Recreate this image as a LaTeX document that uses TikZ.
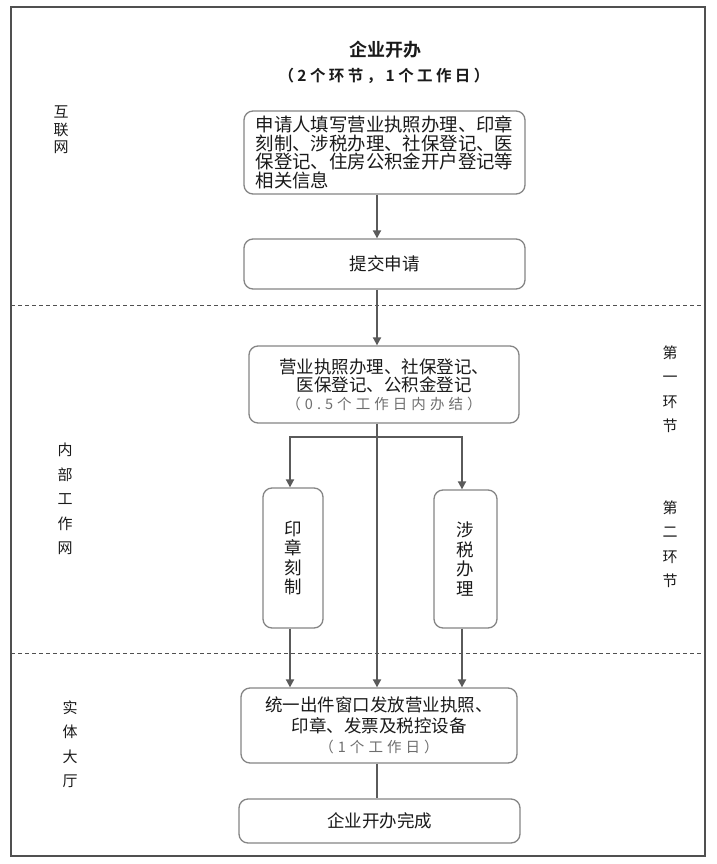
\documentclass[tikz,border=0pt]{standalone}
\usepackage{fontspec}
\setmainfont{Noto Sans CJK SC}
\newfontfamily\cjkb{Noto Sans CJK SC Bold}
\newfontfamily\cjkg[LetterSpace=28]{Noto Sans CJK SC}
\usetikzlibrary{arrows.meta}
\definecolor{framec}{HTML}{505050}
\definecolor{boxc}{HTML}{858585}
\definecolor{linec}{HTML}{5A5A5A}
\definecolor{txtc}{HTML}{1A1A1A}
\definecolor{greyc}{HTML}{6E6E6E}
\tikzset{
  procbox/.style={draw=boxc, line width=1.3pt, rounded corners=9pt, inner sep=0pt,
    text=txtc, font=\fontsize{17.5}{18.5}\selectfont, align=center},
  sidelbl/.style={text=txtc, font=\fontsize{15}{24.5}\selectfont, align=center, inner sep=0pt},
  conn/.style={draw=linec, line width=1.8pt},
  arr/.style={conn, -{Triangle[length=8pt,width=8pt]}},
  sep/.style={draw=framec, line width=1pt, dash pattern=on 4pt off 3pt},
}
\begin{document}
\begin{tikzpicture}[x=1pt,y=-1pt]
\useasboundingbox (0,0) rectangle (716,864);
\fill[white] (0,0) rectangle (716,864);
% frame
\draw[framec, line width=2pt] (11,7) rectangle (705,856);
\coordinate (fl1) at (11,305); \coordinate (fr1) at (705,305);
\coordinate (fl2) at (11,653); \coordinate (fr2) at (705,653);
\draw[sep] (fl1) -- (fr1);
\draw[sep] (fl2) -- (fr2);
% title
\node[text=txtc, font=\cjkb\fontsize{18}{20}\selectfont, inner sep=0pt] (title) at (385,50) {企业开办};
\node[text=txtc, font=\cjkb\fontsize{15.5}{18}\selectfont\addfontfeature{LetterSpace=22}, inner sep=0pt] (subtitle) at (384,76) {（2个环节，1个工作日）};
% side labels
\node[sidelbl, font=\fontsize{15}{17.5}\selectfont] (l1) at (61,130) {互\\联\\网};
\node[sidelbl] (l2) at (65,499) {内\\部\\工\\作\\网};
\node[sidelbl] (l3) at (70,744) {实\\体\\大\\厅};
\node[sidelbl] (r1) at (670,389) {第\\一\\环\\节};
\node[sidelbl] (r2) at (670,544) {第\\二\\环\\节};
% boxes
\node[procbox, minimum width=281pt, minimum height=83pt, align=left, font=\fontsize{18.4}{18.4}\selectfont] (b1) at (384.5,152.5)
  {申请人填写营业执照办理、印章\\刻制、涉税办理、社保登记、医\\保登记、住房公积金开户登记等\\相关信息};
\node[procbox, minimum width=281pt, minimum height=50pt] (b2) at (384.5,264) {提交申请};
\node[procbox, minimum width=270pt, minimum height=77pt] (b3) at (384,384.5)
  {营业执照办理、社保登记、\\医保登记、公积金登记\\[-1pt]{\cjkg\color{greyc}\fontsize{14.5}{17}\selectfont（0.5个工作日内办结）}};
\node[procbox, minimum width=60pt, minimum height=140pt, font=\fontsize{17.5}{19.5}\selectfont] (b5) at (293,558) {印\\章\\刻\\制};
\node[procbox, minimum width=63pt, minimum height=138pt, font=\fontsize{17.5}{19.5}\selectfont] (b6) at (465.5,559) {涉\\税\\办\\理};
\node[procbox, minimum width=276pt, minimum height=75pt, font=\fontsize{17.5}{20.5}\selectfont] (b4) at (379,725.5)
  {统一出件窗口发放营业执照、\\印章、发票及税控设备\\{\cjkg\color{greyc}\fontsize{14.5}{17}\selectfont（1个工作日）}};
\node[procbox, minimum width=281pt, minimum height=44pt] (b7) at (379.5,821) {企业开办完成};
% connector helpers
\coordinate (cx) at (377,0);
\coordinate (lx) at (290,0);
\coordinate (rx) at (462,0);
\coordinate (split) at (377,437);
% connectors
\draw[arr] (b1.south -| cx) -- (b2.north -| cx);
\draw[arr] (b2.south -| cx) -- (b3.north -| cx);
\draw[arr] (b3.south -| cx) -- (b4.north -| cx);
\draw[arr] (split) -| (b5.north -| lx);
\draw[arr] (split) -| (b6.north -| rx);
\draw[arr] (b5.south -| lx) -- (b4.north -| lx);
\draw[arr] (b6.south -| rx) -- (b4.north -| rx);
\draw[conn] (b4.south -| cx) -- (b7.north -| cx);
\end{tikzpicture}
\end{document}
